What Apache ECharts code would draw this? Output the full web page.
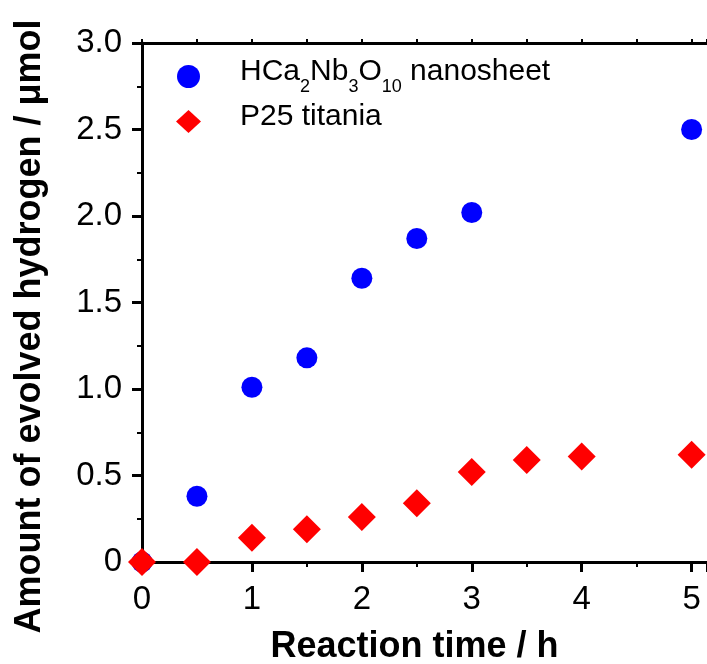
<!DOCTYPE html>
<html>
<head>
<meta charset="utf-8">
<script src="https://cdn.jsdelivr.net/npm/echarts@6/dist/echarts.min.js"></script>
<style>
  html, body { margin: 0; padding: 0; background: #fff; }
  #chart { width: 707px; height: 664px; }
</style>
</head>
<body>
<div id="chart"></div>
<script>
// reaction time (h) and evolved H2 (umol)
var nanoTime = [0, 0.5, 1, 1.5, 2, 2.5, 3, 5];
var nanoH2 = [0, 0.38, 1.01, 1.18, 1.64, 1.87, 2.02, 2.50];
var p25Time = [0, 0.5, 1, 1.5, 2, 2.5, 3, 3.5, 4, 5];
var p25H2 = [0, 0, 0.14, 0.19, 0.26, 0.34, 0.52, 0.59, 0.61, 0.62];

var nanoName = 'HCa2Nb3O10 nanosheet';
var p25Name = 'P25 titania';

function pairs(xs, ys) {
  var out = [];
  for (var i = 0; i < xs.length; i++) out.push([xs[i], ys[i]]);
  return out;
}

var font = 'Liberation Sans, Arial, sans-serif';
var chart = echarts.init(document.getElementById('chart'));

var option = {
  animation: false,
  grid: { left: 142, top: 43, right: 0, bottom: 102, outerBoundsMode: 'none' },
  legend: {
    left: 171, top: 52,
    orient: 'vertical',
    itemGap: 6,
    itemWidth: 25, itemHeight: 23,
    data: [
      { name: nanoName, icon: 'circle' },
      { name: p25Name, icon: 'diamond' }
    ],
    formatter: function (name) {
      if (name === nanoName) {
        return '{n|HCa}{s|2}{n|Nb}{s|3}{n|O}{s|10}{n| nanosheet}';
      }
      return '{n|' + name + '}';
    },
    textStyle: {
      fontFamily: font, fontSize: 30, color: '#000', padding: [0, 0, 0, 34],
      rich: {
        n: { fontFamily: font, fontSize: 30, color: '#000', verticalAlign: 'bottom', padding: [0, 0, 9, 0] },
        s: { fontFamily: font, fontSize: 18, color: '#000', verticalAlign: 'bottom' }
      }
    }
  },
  xAxis: [{
    type: 'value',
    min: 0, max: 5.14, interval: 1,
    name: 'Reaction time / h',
    nameLocation: 'middle', nameGap: 67,
    nameTextStyle: { fontFamily: font, fontSize: 36, fontWeight: 'bold', color: '#000', padding: [0, 20, 0, 0] },
    axisLine: { show: true, onZero: false, lineStyle: { color: '#000', width: 3 } },
    axisTick: { show: true, length: 10, lineStyle: { color: '#000', width: 3 } },
    minorTick: { show: true, splitNumber: 2, length: 5, lineStyle: { color: '#000', width: 2 } },
    axisLabel: { fontFamily: font, fontSize: 33, color: '#000', margin: 21 },
    splitLine: { show: false }
  }, {
    type: 'value', position: 'top',
    min: 0, max: 5.14, interval: 1,
    axisLine: { show: true, onZero: false, lineStyle: { color: '#000', width: 3 } },
    axisTick: { show: true, length: 4, lineStyle: { color: '#000', width: 2 } },
    minorTick: { show: true, splitNumber: 2, length: 4, lineStyle: { color: '#000', width: 2 } },
    axisLabel: { show: false },
    splitLine: { show: false }
  }],
  yAxis: {
    type: 'value',
    min: 0, max: 3, interval: 0.5,
    name: 'Amount of evolved hydrogen / \u03bcmol',
    nameLocation: 'middle', nameGap: 94,
    nameTextStyle: { fontFamily: font, fontSize: 36, fontWeight: 'bold', color: '#000', padding: [0, 48, 0, 0] },
    axisLine: { show: true, onZero: false, lineStyle: { color: '#000', width: 3 } },
    axisTick: { show: true, length: 10, lineStyle: { color: '#000', width: 3 } },
    minorTick: { show: true, splitNumber: 2, length: 5, lineStyle: { color: '#000', width: 2 } },
    axisLabel: {
      fontFamily: font, fontSize: 33, color: '#000', margin: 20,
      formatter: function (v) { return v === 0 ? '0' : v.toFixed(1); }
    },
    splitLine: { show: false }
  },
  series: [{
    name: nanoName,
    type: 'scatter',
    symbol: 'circle',
    symbolSize: 21,
    itemStyle: { color: '#0000ff', opacity: 1 },
    data: pairs(nanoTime, nanoH2),
    z: 2
  }, {
    name: p25Name,
    type: 'scatter',
    symbol: 'diamond',
    symbolSize: 28,
    itemStyle: { color: '#ff0000', opacity: 1 },
    data: pairs(p25Time, p25H2),
    z: 3
  }]
};

chart.setOption(option);
</script>
</body>
</html>
